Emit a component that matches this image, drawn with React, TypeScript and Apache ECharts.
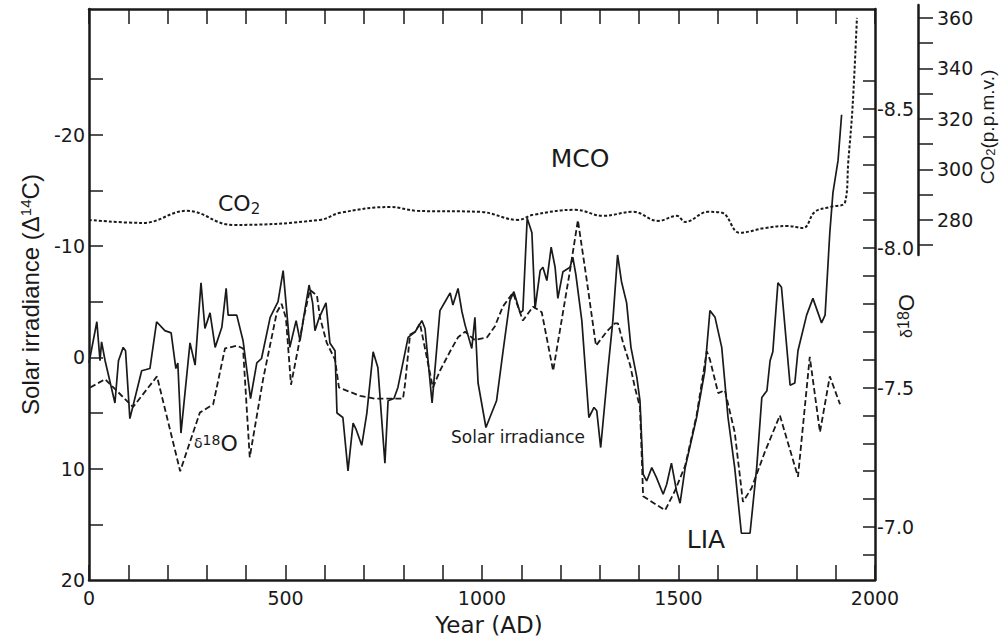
import React, { useEffect, useRef } from "react";
import * as echarts from "echarts";

// Solar irradiance proxy (Δ14C, per mil; axis is inverted)
const solarYears = [
  0, 20, 28, 32, 41, 66, 75, 87, 93, 104, 134, 155, 172, 193, 209, 221, 226, 234, 257, 270,
  285, 295, 308, 321, 338, 349, 354, 376, 392, 411, 427, 439, 461, 481, 494, 503, 511, 527, 537, 550,
  560, 569, 575, 585, 603, 613, 626, 631, 646, 659, 672, 680, 694, 707, 723, 735, 753, 761, 776, 786,
  812, 830, 847, 855, 873, 893, 906, 919, 926, 939, 949, 957, 974, 982, 990, 1010, 1020, 1037, 1053, 1071,
  1081, 1097, 1104, 1115, 1127, 1135, 1148, 1155, 1165, 1176, 1186, 1193, 1206, 1224, 1231, 1239, 1254, 1272, 1285, 1292,
  1302, 1321, 1333, 1345, 1355, 1368, 1379, 1394, 1402, 1410, 1419, 1432, 1444, 1461, 1470, 1482, 1495, 1504, 1517, 1546,
  1567, 1580, 1593, 1610, 1626, 1643, 1660, 1682, 1699, 1712, 1725, 1733, 1740, 1753, 1762, 1784, 1796, 1804, 1826, 1842,
  1864, 1873, 1885, 1893, 1906, 1915,
];
const solarDelta14C = [
  0.5, -3.2, 0.3, -1.4, 0.3, 4.1, 0.3, -0.9, -0.6, 5.5, 1.2, 1.0, -3.2, -2.4, -2.2, 1.0, 0.5, 6.8, -1.3, 0.7,
  -6.7, -2.6, -4.0, -0.9, -2.7, -6.2, -3.8, -3.8, -1.5, 3.7, 0.5, 0.1, -3.6, -5.0, -7.8, -4.2, -0.9, -3.3, -1.5, -4.4,
  -6.5, -4.9, -2.4, -3.5, -4.9, -1.3, -0.6, 5.0, 5.4, 10.2, 5.9, 6.5, 7.9, 5.0, -0.5, 0.9, 9.5, 3.9, 3.7, 2.7,
  -1.8, -2.3, -3.3, -2.6, 4.1, -4.2, -5.0, -5.8, -4.7, -6.2, -4.1, -2.9, -0.8, -3.6, 2.3, 6.3, 5.4, 3.9, -0.4, -5.1,
  -5.9, -4.0, -4.2, -12.5, -11.2, -4.4, -7.8, -8.1, -6.9, -9.9, -8.1, -5.3, -7.7, -8.1, -9.0, -7.4, -3.3, 5.4, 4.5, 4.8,
  8.1, 0.9, -3.3, -9.2, -6.8, -4.9, -0.9, 1.8, 3.9, 10.5, 11.1, 9.9, 10.8, 12.3, 11.4, 9.5, 12.0, 13.1, 9.9, 5.4,
  1.2, -4.2, -3.6, -0.9, 5.4, 9.9, 15.8, 15.8, 9.9, 3.6, 3.0, 0.3, -0.5, -6.7, -6.3, 2.5, 2.3, -0.6, -3.8, -5.3,
  -3.1, -3.8, -11.2, -14.8, -17.7, -21.8,
];

// δ18O record (per mil; axis is inverted)
const d18oYears = [
  3, 41, 112, 173, 232, 282, 316, 346, 377, 392, 409, 443, 478, 490, 501, 514, 532, 545, 562, 580,
  588, 605, 626, 636, 690, 728, 799, 804, 817, 830, 842, 855, 875, 893, 919, 939, 957, 982, 1013, 1033,
  1053, 1079, 1104, 1130, 1152, 1181, 1224, 1244, 1266, 1290, 1317, 1338, 1346, 1359, 1377, 1389, 1402, 1410, 1466, 1491,
  1517, 1546, 1572, 1580, 1601, 1618, 1643, 1664, 1686, 1720, 1758, 1804, 1834, 1860, 1885, 1911,
];
const d18oValues = [
  -7.5, -7.53, -7.43, -7.54, -7.2, -7.41, -7.44, -7.64, -7.65, -7.64, -7.25, -7.53, -7.77, -7.8, -7.75, -7.51, -7.64, -7.74, -7.85, -7.83,
  -7.75, -7.66, -7.6, -7.5, -7.47, -7.46, -7.46, -7.51, -7.69, -7.7, -7.73, -7.64, -7.5, -7.56, -7.63, -7.68, -7.7, -7.67, -7.68, -7.72,
  -7.79, -7.84, -7.74, -7.79, -7.77, -7.56, -7.92, -8.1, -7.89, -7.65, -7.7, -7.73, -7.73, -7.66, -7.58, -7.5, -7.43, -7.11, -7.06, -7.13,
  -7.22, -7.4, -7.63, -7.6, -7.48, -7.49, -7.34, -7.09, -7.14, -7.27, -7.4, -7.18, -7.61, -7.34, -7.54, -7.44,
];

// Atmospheric CO2 (p.p.m.v.)
const co2Years = [
  0, 137, 249, 366, 588, 639, 766, 835, 995, 1092, 1130, 1237, 1308, 1384, 1448, 1496, 1517, 1575, 1611, 1656,
  1720, 1776, 1817, 1847, 1885, 1924, 1932, 1943, 1954,
];
const co2Values = [
  280, 278.8, 283.6, 278, 280, 282.8, 285.1, 283.6, 283.2, 280, 282, 284, 281.6, 283.2, 279.6, 281.6, 279.2, 283.2, 282.8, 274.9,
  276.8, 277.6, 276.8, 283.2, 285.1, 287.1, 303, 325, 360,
];

// Axis ticks and labels
const yearLabels = [0, 500, 1000, 1500, 2000];
const delta14cTicks = [-25, -20, -15, -10, -5, 0, 5, 10, 15];
const delta14cLabels = [-20, -10, 0, 10, 20];
const d18oTicks = [-8.6, -8.5, -8.4, -8.3, -8.2, -8.1, -8.0, -7.9, -7.8, -7.7, -7.6, -7.5, -7.4, -7.3, -7.2, -7.1, -7.0, -6.9];
const d18oLabels = [-8.5, -8.0, -7.5, -7.0];
const co2Ticks = [270, 280, 290, 300, 310, 320, 330, 340, 350, 360];
const co2Labels = [280, 300, 320, 340, 360];

const INK = "#1a1a1a";
const TICK_FONT = "DejaVu Sans";
const zip = (xs: number[], ys: number[]) => xs.map((x, i) => [x, ys[i]]);

const frameLine = { show: true, onZero: false, lineStyle: { color: INK, width: 2.5 } };

function buildOption(): echarts.EChartsOption {
  return {
    animation: false,
    backgroundColor: "#ffffff",
    grid: [
      { left: 89, right: 130, top: 9, bottom: 61, containLabel: false },
      { left: 89, right: 130, top: 5, height: 250, containLabel: false },
    ],
    xAxis: [
      {
        type: "value",
        gridIndex: 0,
        position: "bottom",
        min: 0,
        max: 2000,
        interval: 100,
        axisLine: frameLine,
        axisTick: { show: true, inside: true, length: 15, lineStyle: { color: INK, width: 1.5 } },
        axisLabel: {
          color: INK,
          fontFamily: TICK_FONT,
          fontSize: 19,
          margin: 8,
          formatter: (v: number) => (yearLabels.includes(v) ? String(v) : ""),
        },
        splitLine: { show: false },
        name: "Year (AD)",
        nameLocation: "middle",
        nameGap: 33,
        nameTextStyle: { color: INK, fontFamily: TICK_FONT, fontSize: 23, padding: [0, 0, 0, 14] },
      },
      {
        type: "value",
        gridIndex: 0,
        position: "top",
        min: 0,
        max: 2000,
        interval: 100,
        axisLine: frameLine,
        axisTick: { show: true, inside: true, length: 15, lineStyle: { color: INK, width: 1.5 } },
        axisLabel: { show: false },
        splitLine: { show: false },
      },
      {
        type: "value",
        gridIndex: 1,
        min: 0,
        max: 2000,
        show: false,
      },
    ],
    yAxis: [
      {
        type: "value",
        gridIndex: 0,
        position: "left",
        inverse: true,
        min: -31.3,
        max: 20,
        axisLine: frameLine,
        axisTick: {
          show: true,
          inside: true,
          length: 14,
          customValues: delta14cTicks,
          lineStyle: { color: INK, width: 1.5 },
        },
        axisLabel: {
          color: INK,
          fontFamily: TICK_FONT,
          fontSize: 19,
          margin: 4,
          customValues: delta14cLabels,
          formatter: (v: number) => String(v),
        },
        splitLine: { show: false },
        name: "Solar irradiance ({d|Δ}{s|14}C)",
        nameLocation: "middle",
        nameRotate: 90,
        nameGap: 46,
        nameTextStyle: {
          color: INK,
          fontFamily: "Liberation Sans",
          fontSize: 24,
          rich: {
            d: { fontFamily: "Liberation Sans", fontSize: 24, color: INK },
            s: { fontFamily: "Liberation Sans", fontSize: 15, color: INK, padding: [0, 0, 10, 0] },
          },
        },
      },
      {
        type: "value",
        gridIndex: 0,
        position: "right",
        inverse: true,
        min: -8.857,
        max: -6.81,
        axisLine: frameLine,
        axisTick: {
          show: true,
          inside: true,
          length: 12,
          customValues: d18oTicks,
          lineStyle: { color: INK, width: 1.5 },
        },
        axisLabel: {
          color: INK,
          fontFamily: TICK_FONT,
          fontSize: 19,
          margin: 2,
          customValues: d18oLabels,
          formatter: (v: number) => v.toFixed(1),
        },
        splitLine: { show: false },
      },
      {
        type: "value",
        gridIndex: 1,
        position: "right",
        offset: 43,
        min: 266.1,
        max: 365.1,
        axisLine: { show: true, onZero: false, lineStyle: { color: INK, width: 2.5 } },
        axisTick: {
          show: true,
          inside: false,
          length: 15,
          customValues: co2Ticks,
          lineStyle: { color: INK, width: 1.5 },
        },
        axisLabel: {
          color: INK,
          fontFamily: TICK_FONT,
          fontSize: 19,
          margin: 19,
          customValues: co2Labels,
          formatter: (v: number) => String(v),
        },
        splitLine: { show: false },
      },
    ],
    series: [
      {
        name: "Solar irradiance",
        type: "line",
        xAxisIndex: 0,
        yAxisIndex: 0,
        data: zip(solarYears, solarDelta14C),
        symbol: "none",
        lineStyle: { color: INK, width: 1.7, type: "solid" },
      },
      {
        name: "δ18O",
        type: "line",
        xAxisIndex: 0,
        yAxisIndex: 1,
        data: zip(d18oYears, d18oValues),
        symbol: "none",
        lineStyle: { color: INK, width: 1.8, type: [6, 3] },
      },
      {
        name: "CO2",
        type: "line",
        xAxisIndex: 2,
        yAxisIndex: 2,
        data: zip(co2Years, co2Values),
        symbol: "none",
        smooth: 0.4,
        lineStyle: { color: INK, width: 2, type: [3, 2] },
      },
    ],
    graphic: [
      {
        type: "text",
        x: 580,
        y: 158,
        style: { text: "MCO", font: '25px "DejaVu Sans"', fill: INK, align: "center", verticalAlign: "middle" },
      },
      {
        type: "text",
        x: 706,
        y: 539,
        style: { text: "LIA", font: '25px "DejaVu Sans"', fill: INK, align: "center", verticalAlign: "middle" },
      },
      {
        type: "text",
        x: 518,
        y: 437,
        style: {
          text: "Solar irradiance",
          font: '17px "DejaVu Sans"',
          fill: INK,
          align: "center",
          verticalAlign: "middle",
        },
      },
      {
        type: "text",
        x: 218,
        y: 207,
        style: {
          text: "{b|CO}{s|2}",
          fill: INK,
          align: "left",
          verticalAlign: "middle",
          rich: {
            b: { fontFamily: "DejaVu Sans", fontSize: 22, fill: INK, padding: [0, 0, 8, 0] },
            s: { fontFamily: "DejaVu Sans", fontSize: 15, fill: INK, padding: [4, 0, 0, 0] },
          },
        },
      },
      {
        type: "text",
        x: 194,
        y: 443,
        style: {
          text: "{d|δ}{s|18}{o|O}",
          fill: INK,
          align: "left",
          verticalAlign: "middle",
          rich: {
            d: { fontFamily: "DejaVu Sans", fontSize: 14, fill: INK },
            s: { fontFamily: "DejaVu Sans", fontSize: 14, fill: INK, padding: [0, 0, 7, 0] },
            o: { fontFamily: "DejaVu Sans", fontSize: 22, fill: INK },
          },
        },
      },
      {
        type: "text",
        x: 906,
        y: 316,
        rotation: Math.PI / 2,
        style: {
          text: "{d|δ}{s|18}{o|O}",
          fill: INK,
          align: "center",
          verticalAlign: "middle",
          rich: {
            d: { fontFamily: "Liberation Sans", fontSize: 16, fill: INK },
            s: { fontFamily: "Liberation Sans", fontSize: 16, fill: INK, padding: [0, 0, 6, 0] },
            o: { fontFamily: "Liberation Sans", fontSize: 22, fill: INK },
          },
        },
      },
      {
        type: "text",
        x: 990,
        y: 127,
        rotation: Math.PI / 2,
        style: {
          text: "{b|CO}{s|2}{b|(p.p.m.v.)}",
          fill: INK,
          align: "center",
          verticalAlign: "middle",
          rich: {
            b: { fontFamily: "Liberation Sans", fontSize: 19, fill: INK, padding: [0, 0, 5, 0] },
            s: { fontFamily: "Liberation Sans", fontSize: 13, fill: INK },
          },
        },
      },
    ],
  };
}

export default function App() {
  const ref = useRef<HTMLDivElement>(null);

  useEffect(() => {
    if (!ref.current) return;
    const chart = echarts.init(ref.current, null, { renderer: "svg" });
    chart.setOption(buildOption());
    return () => chart.dispose();
  }, []);

  return (
    <div
      ref={ref}
      style={{ position: "fixed", left: 0, top: 0, width: 1005, height: 641, background: "#ffffff" }}
    />
  );
}
